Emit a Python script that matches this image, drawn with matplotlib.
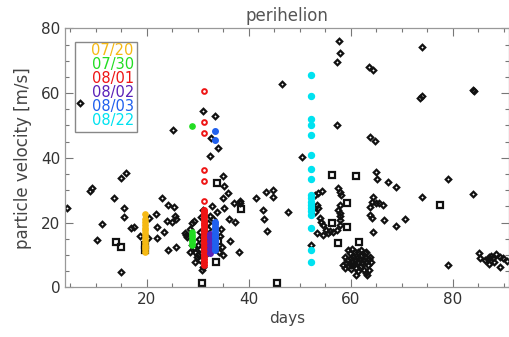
import matplotlib
matplotlib.use("Agg")
import matplotlib.pyplot as plt
from matplotlib.patches import Rectangle
from matplotlib.ticker import MultipleLocator

# ---------------- data ----------------
diam_x = [4.3, 6.9, 8.9, 9.3, 10.3, 11.3, 13.5, 14.9, 15.9, 15.5, 15.5, 14.9, 16.9, 17.5, 18.6,
          20.5, 20.3, 21.8, 22.1, 22.1, 23.1, 23.3, 24.2, 25.4, 23.9, 24.9, 25.6, 25.7, 24.2, 25.7,
          25.2, 27.5, 27.8, 28.0, 28.5, 28.8, 29.2, 28.8, 29.5, 29.8, 29.5, 28.5, 29.2, 30.1, 31.1,
          30.7, 31.1, 30.5, 30.2, 30.0, 30.5, 31.8, 32.0, 32.0, 32.5, 32.2, 32.8, 31.9, 30.5, 30.8,
          33.0, 33.7, 32.9, 34.3, 34.5, 34.7, 34.2, 35.2, 36.1, 36.3, 38.0, 34.9, 37.3, 36.0, 35.0,
          34.9, 35.2, 37.2, 38.3, 38.3, 31.1, 33.4, 32.7, 34.0, 32.4, 41.4, 43.4, 44.7, 44.7, 42.7,
          42.9, 43.5, 47.6, 46.5, 50.4, 52.2, 53.3, 53.6, 53.0, 54.0, 54.1, 54.6, 53.3, 54.5, 55.2,
          55.6, 55.9, 56.6, 57.3, 57.8, 57.5, 57.9, 57.8, 57.8, 57.9, 53.6, 54.3, 52.9, 57.5, 57.8,
          58.0, 57.6, 57.9, 57.3, 57.2, 63.5, 64.4, 63.8, 64.8, 65.0, 65.2, 67.2, 68.9, 64.4, 64.1,
          65.0, 65.6, 66.3, 63.8, 63.8, 64.1, 66.6, 68.9, 64.4, 70.6, 73.9, 73.9, 73.6, 74.0, 79.1,
          84.0, 84.0, 84.1, 79.1,
          59.5, 59.8, 60.0, 60.2, 60.5, 60.8, 61.0, 61.2, 61.5, 61.8, 62.0, 62.2, 62.5, 62.8, 63.0,
          63.3, 63.5, 63.8, 59.2, 59.0, 58.8, 59.5, 60.0, 60.5, 61.0, 61.5, 61.0, 62.0, 62.5, 63.0,
          63.2, 63.5, 64.0, 62.0, 61.5, 60.3, 62.8, 63.0, 58.5, 58.9, 60.0,
          85.1, 85.4, 86.3, 87.0, 87.5, 87.8, 87.1, 88.4, 89.3, 89.3, 90.6, 86.8, 88.0, 89.8]
diam_y = [24.4, 57.0, 29.8, 30.8, 14.7, 19.6, 27.5, 33.7, 35.2, 24.4, 21.8, 4.9, 18.3, 18.8, 15.9,
          21.5, 15.2, 22.7, 18.7, 15.2, 27.5, 17.2, 25.5, 24.8, 20.6, 20.1, 22.2, 21.1, 11.6, 12.4,
          48.6, 16.7, 16.2, 15.5, 18.1, 20.0, 20.5, 13.1, 11.0, 9.5, 8.0, 11.0, 12.1, 10.0, 6.4,
          21.9, 23.9, 17.0, 15.0, 13.0, 12.0, 14.0, 18.0, 20.0, 22.0, 12.5, 14.0, 10.5, 8.5, 5.5,
          21.0, 23.2, 25.2, 16.0, 18.0, 12.5, 11.0, 24.6, 21.0, 14.4, 11.0, 10.1, 20.3, 29.3, 27.5,
          34.4, 31.3, 26.2, 26.0, 26.8, 54.4, 52.8, 46.1, 43.1, 40.5, 27.7, 29.4, 30.1, 28.0, 23.9,
          21.0, 17.4, 23.2, 62.8, 40.3, 13.1, 25.5, 24.4, 23.4, 21.4, 20.3, 19.3, 16.7, 16.2, 17.7,
          16.7, 17.4, 17.2, 17.7, 25.5, 23.9, 22.9, 22.1, 20.8, 19.3, 29.1, 29.8, 28.6, 30.6, 29.4,
          28.5, 76.0, 72.4, 69.5, 50.2, 68.0, 67.2, 46.4, 45.1, 35.7, 33.5, 32.7, 30.9, 28.0, 26.5,
          26.0, 26.0, 25.5, 24.9, 22.4, 21.4, 20.8, 19.1, 17.2, 21.0, 28.0, 74.2, 58.5, 59.0, 33.5,
          28.7, 61.0, 60.5, 6.9,
          11.5, 10.5, 9.0, 8.0, 9.5, 10.8, 8.5, 9.2, 7.8, 8.8, 9.8, 7.5, 8.5, 9.5, 8.0,
          7.0, 8.8, 9.5, 8.5, 7.5, 9.3, 6.5, 5.8, 6.8, 6.0, 5.0, 4.0, 6.5, 5.5, 4.5,
          3.8, 5.5, 8.0, 11.5, 11.0, 11.8, 10.5, 11.0, 7.0, 6.0, 7.0,
          10.5, 9.2, 8.5, 9.5, 9.8, 9.0, 7.3, 10.3, 9.3, 6.3, 8.3, 8.8, 8.0, 9.0]

sq_x = [14.0, 15.0, 19.7, 19.7, 33.7, 38.4, 34.0, 33.6, 30.8, 45.5, 56.3, 61.0, 59.3, 56.3, 59.3,
        57.5, 61.7, 77.5]
sq_y = [13.9, 12.4, 13.1, 11.6, 32.2, 24.3, 14.4, 8.0, 1.3, 1.3, 34.7, 34.4, 26.2, 19.9, 18.8,
        13.6, 13.9, 25.5]

labels = ["07/20", "07/30", "08/01", "08/02", "08/03", "08/22"]
colors = ["#f5b914", "#22dd22", "#ee1515", "#5a22b8", "#2060ee", "#00e2f0"]

y_0720 = [22.8, 21.0, 20.2, 19.3, 18.5, 17.6, 16.8, 16.0, 15.0, 14.0, 13.2, 12.5, 11.8, 11.0]
x_0720 = [19.6] * len(y_0720)
y_0730 = [49.8, 17.0, 16.2, 15.5, 14.8, 14.2, 13.5, 13.0]
x_0730 = [28.8] + [28.9] * 7
y_0801_hi = [60.7, 51.0, 47.6, 36.3, 33.0, 26.8]
x_0801_hi = [31.3] * len(y_0801_hi)
y_0801 = [24.0, 23.2, 22.4, 21.6, 20.8, 20.0, 19.2, 18.4, 17.6, 16.8, 16.0, 15.2, 14.4, 13.6,
          12.8, 12.0, 11.2, 10.4, 9.6, 8.8, 8.0, 7.0]
x_0801 = [31.3] * len(y_0801)
y_0802 = [10.5, 11.8, 13.0, 14.2, 15.5, 16.5]
x_0802 = [32.4] * len(y_0802)
y_0803 = [48.4, 45.4, 20.3, 19.5, 18.7, 17.9, 17.1, 16.3, 15.5, 14.7, 13.9, 13.1, 12.3, 11.5]
x_0803 = [33.4] * len(y_0803)
y_0822 = [65.5, 59.0, 52.0, 50.0, 47.2, 40.8, 36.5, 33.5, 28.5, 27.5, 26.5, 25.5, 24.5, 23.5,
          22.5, 18.5, 11.5, 8.0]
x_0822 = [52.2] * len(y_0822)

# ---------------- plot ----------------
fig = plt.figure(figsize=(5.1, 3.37), dpi=100)
ax = fig.add_axes([0.1275, 0.147, 0.8705, 0.769])

ax.plot(diam_x, diam_y, ls="none", marker="D", ms=2.8, mfc="none", mec="#111111", mew=1.6)
ax.plot(sq_x, sq_y, ls="none", marker="s", ms=4.0, mfc="none", mec="#111111", mew=1.6)

ax.plot(x_0720, y_0720, ls="none", marker="o", ms=3.8, color=colors[0], mec=colors[0])
ax.plot(x_0730, y_0730, ls="none", marker="o", ms=3.8, color=colors[1], mec=colors[1])
ax.plot(x_0801_hi, y_0801_hi, ls="none", marker="o", ms=3.4, mfc="none", mec=colors[2], mew=1.4)
ax.plot(x_0801, y_0801, ls="none", marker="o", ms=4.0, color=colors[2], mec=colors[2])
ax.plot(x_0802, y_0802, ls="none", marker="o", ms=4.0, color=colors[3], mec=colors[3])
ax.plot(x_0803, y_0803, ls="none", marker="o", ms=4.0, color=colors[4], mec=colors[4])
ax.plot(x_0822, y_0822, ls="none", marker="o", ms=4.3, color=colors[5], mec=colors[5])

ax.set_xlim(4, 91)
ax.set_ylim(0, 80)
ax.xaxis.set_major_locator(MultipleLocator(20))
ax.xaxis.set_minor_locator(MultipleLocator(5))
ax.yaxis.set_major_locator(MultipleLocator(20))
ax.yaxis.set_minor_locator(MultipleLocator(5))
ax.tick_params(which="both", direction="in", top=True, right=True, colors="#777777",
               labelcolor="#333333", labelsize=11)
ax.tick_params(which="major", length=6, width=0.8)
ax.tick_params(which="minor", length=3, width=0.8)
for s in ax.spines.values():
    s.set_color("#999999")
    s.set_linewidth(0.9)

ax.set_title("perihelion", fontsize=12, color="#555555", pad=5)
ax.set_xlabel("days", fontsize=11, color="#444444", labelpad=3)
ax.set_ylabel("particle velocity [m/s]", fontsize=12, color="#444444", labelpad=6)

# legend box with coloured labels
ax.add_patch(Rectangle((0.0225, 0.6), 0.1395, 0.348, transform=ax.transAxes,
                       fill=False, edgecolor="#888888", lw=1.0, zorder=5))
for i, (lab, c) in enumerate(zip(labels, colors)):
    ax.text(0.155, 0.915 - i * 0.054, lab, transform=ax.transAxes, ha="right", va="center",
            color=c, fontsize=10.5, zorder=6)

fig.savefig("out.png", dpi=100)
